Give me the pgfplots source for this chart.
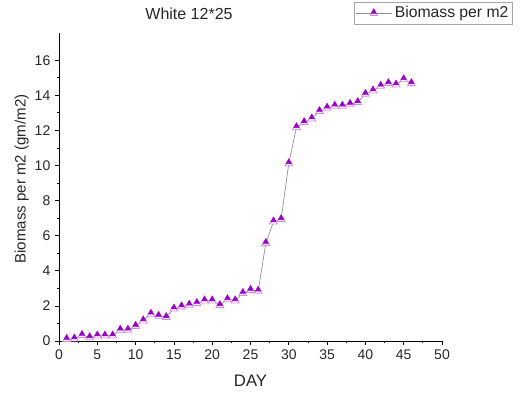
\documentclass[border=0pt]{standalone}
\usepackage{pgfplots}
\pgfplotsset{compat=1.18}
\usepackage{fontspec}
\setmainfont{Liberation Sans}
\definecolor{mdark}{HTML}{9A00C8}
\definecolor{mlight}{HTML}{D68AF0}
\pgfdeclareplotmark{halftri}{%
  \pgfsetfillcolor{white}\pgfsetstrokecolor{mlight}\pgfsetlinewidth{0.6pt}%
  \pgfpathmoveto{\pgfqpoint{0pt}{\pgfplotmarksize}}%
  \pgfpathlineto{\pgfqpoint{-0.866\pgfplotmarksize}{-0.5\pgfplotmarksize}}%
  \pgfpathlineto{\pgfqpoint{0.866\pgfplotmarksize}{-0.5\pgfplotmarksize}}%
  \pgfpathclose
  \pgfusepath{fill,stroke}%
  \pgfsetfillcolor{mdark}\pgfsetstrokecolor{mdark}\pgfsetlinewidth{0.4pt}%
  \pgfpathmoveto{\pgfqpoint{0pt}{\pgfplotmarksize}}%
  \pgfpathlineto{\pgfqpoint{-0.6\pgfplotmarksize}{-0.04\pgfplotmarksize}}%
  \pgfpathlineto{\pgfqpoint{0.6\pgfplotmarksize}{-0.04\pgfplotmarksize}}%
  \pgfpathclose
  \pgfusepath{fill,stroke}%
}
\begin{document}
\begin{tikzpicture}
\path[use as bounding box] (0,0) rectangle (390pt,297pt);
\begin{axis}[
  at={(44.25pt,41.25pt)}, anchor=south west,
  scale only axis, width=287.25pt, height=231pt,
  xmin=0, xmax=50, ymin=0, ymax=17.55,
  axis lines*=left,
  axis line style={line width=0.75pt, black},
  xtick={0,5,...,50}, ytick={0,2,...,16},
  minor x tick num=1, minor y tick num=1,
  tick align=outside,
  major tick length=3pt, minor tick length=1.8pt,
  tick style={black, line width=0.6pt},
  tick label style={font=\fontsize{10.5}{12}\selectfont, text=black!85},
  /pgf/number format/assume math mode=true,
  xlabel={DAY},
  ylabel={Biomass per m2 (gm/m2)},
  xlabel style={font=\fontsize{12.5}{14}\selectfont, text=black!85, at={(axis description cs:0.5,-0.13)}, anchor=center},
  ylabel style={font=\fontsize{11.3}{13}\selectfont, text=black!85, at={(axis description cs:-0.097,0.526)}, anchor=center},
  legend style={at={(1,1)}, anchor=north east, xshift=53.25pt, yshift=23.25pt,
    draw=black!35, font=\fontsize{11.8}{13}\selectfont, text=black!85,
    inner sep=1.2pt, row sep=0pt},
  legend image code/.code={%
    \draw[black!45, line width=0.5pt] (0cm,0cm) -- (0.95cm,0cm);
    \draw[mark=halftri, mark size=3.2pt] plot coordinates {(0.475cm,0cm)};
  },
  clip=false,
]
\addplot[black!45, line width=0.5pt, mark=halftri, mark size=3.4pt] coordinates {
(1,0.10) (2,0.13) (3,0.33) (4,0.20) (5,0.30) (6,0.30) (7,0.30) (8,0.63)
(9,0.63) (10,0.85) (11,1.16) (12,1.54) (13,1.42) (14,1.35) (15,1.84) (16,1.96)
(17,2.05) (18,2.15) (19,2.30) (20,2.30) (21,2.03) (22,2.37) (23,2.30) (24,2.72)
(25,2.90) (26,2.85) (27,5.57) (28,6.80) (29,6.93) (30,10.12) (31,12.17) (32,12.46)
(33,12.67) (34,13.09) (35,13.28) (36,13.39) (37,13.39) (38,13.50) (39,13.60) (40,14.07)
(41,14.26) (42,14.53) (43,14.68) (44,14.60) (45,14.90) (46,14.68)
};
\addlegendentry{Biomass per m2}
\end{axis}
\node[font=\fontsize{12}{14}\selectfont, text=black!85] at (141.75pt,286.5pt) {White 12*25};
\end{tikzpicture}
\end{document}
